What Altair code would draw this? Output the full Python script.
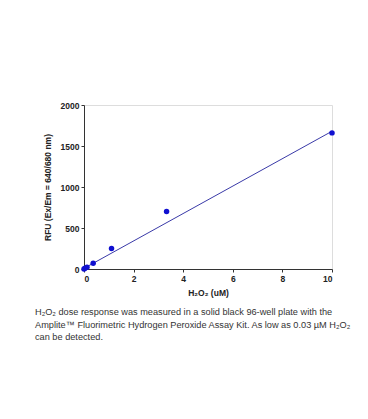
import altair as alt
import pandas as pd

conc = [0, 0.04, 0.12, 0.37, 1.11, 3.33, 10]
rfu = [0, 8, 22, 70, 250, 700, 1660]
fit_x = [0, 10]
fit_y = [8, 1680]
caption = [
    "H₂O₂ dose response was measured in a solid black 96-well plate with the",
    "Amplite™ Fluorimetric Hydrogen Peroxide Assay Kit. As low as 0.03 µM H₂O₂",
    "can be detected.",
]
caption_y = [207, 220, 232]

pts = pd.DataFrame({"x": conc, "y": rfu})
fit = pd.DataFrame({"x": fit_x, "y": fit_y})

F = "Liberation Sans"
xs = alt.Scale(domain=[0, 10], nice=False)
ys = alt.Scale(domain=[0, 2000], nice=False)
xa = alt.Axis(values=[0, 2, 4, 6, 8, 10], title="H₂O₂ (uM)", grid=False, format="d",
              labelFont=F, labelFontWeight="bold", labelFontSize=8.5, labelColor="#222",
              titleFont=F, titleFontWeight="bold", titleFontSize=8.5, titleColor="#222",
              tickColor="#333", domainColor="#333", tickSize=3, titlePadding=6)
ya = alt.Axis(values=[0, 500, 1000, 1500, 2000], title="RFU (Ex/Em = 640/680 nm)", grid=False,
              format="d",
              labelFont=F, labelFontWeight="bold", labelFontSize=8.5, labelColor="#222",
              titleFont=F, titleFontWeight="bold", titleFontSize=8.5, titleColor="#222",
              tickColor="#333", domainColor="#333", tickSize=3, titlePadding=8)

line = alt.Chart(fit).mark_line(color="#3a3aa8", strokeWidth=1).encode(
    x=alt.X("x:Q", scale=xs, axis=xa), y=alt.Y("y:Q", scale=ys, axis=ya))
dots = alt.Chart(pts).mark_circle(color="#1010d0", size=30, opacity=1).encode(
    x=alt.X("x:Q", scale=xs), y=alt.Y("y:Q", scale=ys))

texts = []
for t, yy in zip(caption, caption_y):
    texts.append(
        alt.Chart(pd.DataFrame({"t": [t]})).mark_text(
            align="left", baseline="middle", font=F, fontSize=9.2, color="#333"
        ).encode(x=alt.value(-49), y=alt.value(yy), text="t:N")
    )

chart = alt.layer(line, dots, *texts).properties(
    width=248, height=164,
    autosize=alt.AutoSizeParams(type="none"),
    padding={"left": 76, "top": 97, "right": 20, "bottom": 140},
).configure_view(stroke="#333", strokeWidth=1).configure(background="white")

chart.save("out.html", embed_options={"renderer": "svg", "actions": False})
